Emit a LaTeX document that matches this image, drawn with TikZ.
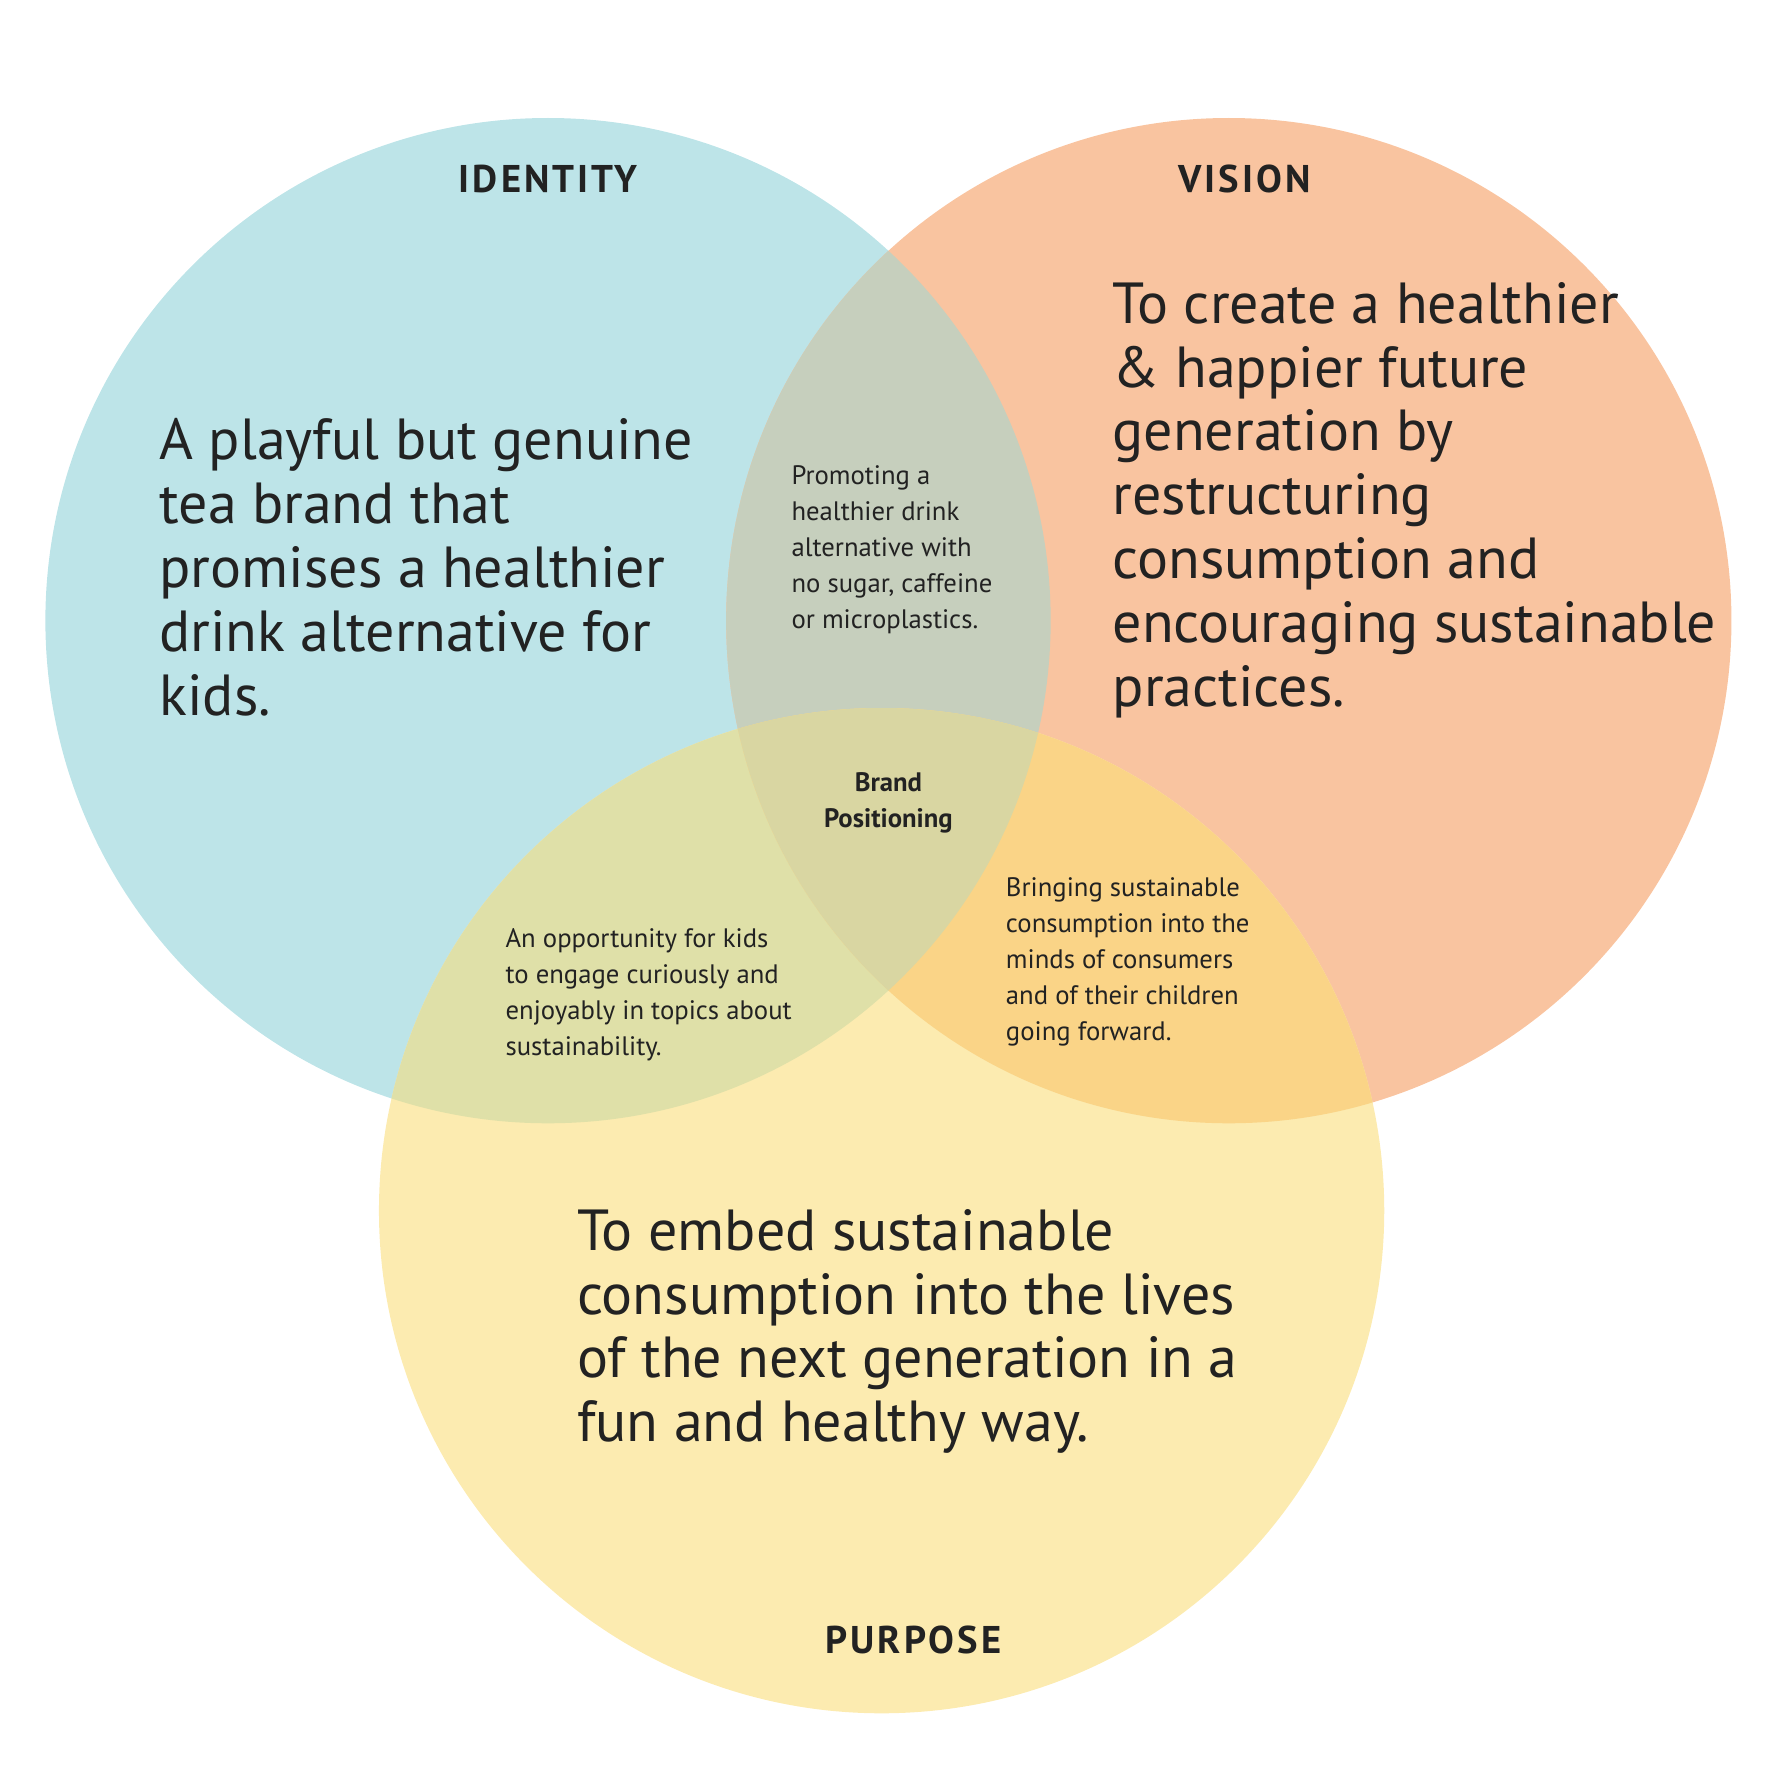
\documentclass[tikz,border=0pt]{standalone}
\usepackage{fontspec}
\setmainfont{PT Sans}
\definecolor{cb}{HTML}{BDE4E8}
\definecolor{co}{HTML}{F9C4A0}
\definecolor{cy}{HTML}{FCEBB0}
\definecolor{cbo}{HTML}{C6CFBD}
\definecolor{cby}{HTML}{DFE0A8}
\definecolor{coy}{HTML}{FAD487}
\definecolor{cc}{HTML}{D9D6A2}
\definecolor{tx}{HTML}{222222}
\tikzset{
 big/.style={inner sep=0, anchor=north west, align=left, text=tx, font=\fontsize{16.5}{18.2}\selectfont},
 small/.style={inner sep=0, anchor=north west, align=left, text=tx, font=\fontsize{7.6}{10.2}\selectfont},
 ttl/.style={inner sep=0, text=tx, font=\fontsize{11}{13}\selectfont\bfseries\addfontfeatures{LetterSpace=8}}
}
\begin{document}
\begin{tikzpicture}[x=0.011346cm,y=-0.011346cm]
\useasboundingbox (0,0) rectangle (1560,1558);
\def\B{(483,547) circle (443)}
\def\O{(1083,547) circle (443)}
\def\Y{(777,1067) circle (443)}
\fill[cb] \B; \fill[co] \O; \fill[cy] \Y;
\begin{scope}\clip \B; \fill[cbo] \O; \fill[cby] \Y; \end{scope}
\begin{scope}\clip \O; \fill[coy] \Y; \end{scope}
\begin{scope}\clip \B; \clip \O; \fill[cc] \Y; \end{scope}
\node[ttl] (ti) at (483,158) {IDENTITY};
\node[ttl] (tv) at (1097,158) {VISION};
\node[ttl] (tp) at (805,1445) {PURPOSE};
\node[big] (bi) at (140,368) {A playful but genuine\\tea brand that\\promises a healthier\\drink alternative for\\kids.};
\node[big] (bv) at (980,248) {To create a healthier\\\& happier future\\generation by\\restructuring\\consumption and\\encouraging sustainable\\practices.};
\node[big] (bp) at (508,1065) {To embed sustainable\\consumption into the lives\\of the next generation in a\\fun and healthy way.};
\node[small] (s1) at (697,410) {Promoting a\\healthier drink\\alternative with\\no sugar, caffeine\\or microplastics.};
\node[small,anchor=north,align=center,font=\fontsize{7.6}{10.2}\selectfont\bfseries] (bc) at (783,680) {Brand\\Positioning};
\node[small] (s2) at (445,818) {An opportunity for kids\\to engage curiously and\\enjoyably in topics about\\sustainability.};
\node[small] (s3) at (886,773) {Bringing sustainable\\consumption into the\\minds of consumers\\and of their children\\going forward.};
\end{tikzpicture}
\end{document}
